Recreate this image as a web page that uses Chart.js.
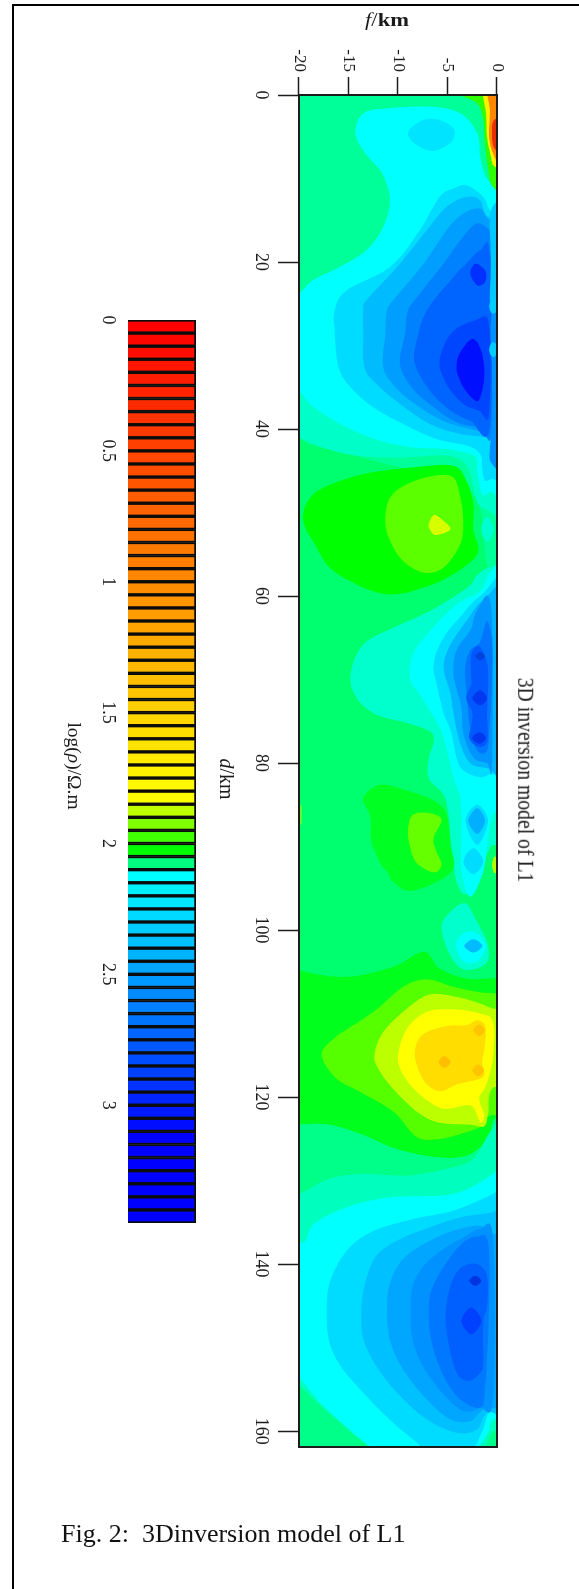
<!DOCTYPE html>
<html>
<head>
<meta charset="utf-8">
<title>3D inversion model of L1</title>
<script src="https://cdn.jsdelivr.net/npm/chart.js@4"></script>
<style>
  html, body { margin: 0; padding: 0; background: #fff; overflow: hidden; }
  body { width: 579px; height: 1589px; position: relative; font-family: "Liberation Serif", serif; color: #1a1a1a; }
  #frame-top { position: absolute; left: 12px; top: 4px; right: 0; height: 2px; background: #000; }
  #frame-left { position: absolute; left: 12px; top: 4px; bottom: 0; width: 2px; background: #000; }
  /* the whole figure is printed on its side, so it is laid out flat and turned */
  #turned { position: absolute; left: 0; top: 0; width: 1589px; height: 579px; transform-origin: 0 0; transform: translateX(579px) rotate(90deg); }
  #turned canvas { position: absolute; left: 0; filter: blur(0.5px); }
  .label { position: absolute; white-space: nowrap; transform: translate(-50%, -50%); }
  #f-title { position: absolute; left: 387px; top: 20px; font-size: 18px; white-space: nowrap; transform: translate(-50%, -50%) scaleX(1.25); }
  #caption { position: absolute; left: 61px; top: 1519px; font-size: 26px; white-space: pre; color: #111; }
</style>
</head>
<body>
<div id="frame-top"></div>
<div id="frame-left"></div>
<div id="turned">
  <canvas id="mapChart" width="1589" height="400" style="top:0"></canvas>
  <canvas id="barChart" width="1589" height="219" style="top:360px"></canvas>
  <div class="label" style="left:780px;top:53px;font-size:19.7px;transform:translate(-50%,-50%) scaleY(1.15)">3D inversion model of L1</div>
  <div class="label" style="left:779px;top:352px;font-size:20px"><i>d</i>/km</div>
  <div class="label" style="left:766px;top:505px;font-size:19.5px">log(<i>ρ</i>)/Ω.m</div>
</div>
<div id="f-title"><i>f</i>/<b>km</b></div>
<div id="caption">Fig. 2:  3Dinversion model of L1</div>

<script>
// axis ticks
const distanceTicks = [0, 20, 40, 60, 80, 100, 120, 140, 160];
const depthTicks = [-20, -15, -10, -5, 0];
const barTicks = [0, 0.5, 1, 1.5, 2, 2.5, 3];

// colour bar: log(rho) at the start of every cell, and its colour
const barLevels = [0, 0.05, 0.1, 0.15, 0.2, 0.25, 0.3, 0.35, 0.4, 0.45, 0.5, 0.55, 0.6, 0.65, 0.7, 0.75, 0.8, 0.85, 0.9, 0.95,
  1, 1.05, 1.1, 1.15, 1.2, 1.25, 1.3, 1.35, 1.4, 1.45, 1.5, 1.55, 1.6, 1.65, 1.7, 1.75, 1.8, 1.85, 1.9, 1.95,
  2, 2.05, 2.1, 2.15, 2.2, 2.25, 2.3, 2.35, 2.4, 2.45, 2.5, 2.55, 2.6, 2.65, 2.7, 2.75, 2.8, 2.85, 2.9, 2.95,
  3, 3.05, 3.1, 3.15, 3.2, 3.25, 3.3, 3.35, 3.4];
const barColors = ['#ff0000', '#ff0700', '#ff0e00', '#ff1500', '#ff1c00', '#ff2300', '#ff2a00', '#ff3200', '#ff3900', '#ff4000',
  '#ff4700', '#ff4e00', '#ff5500', '#ff5c00', '#ff6300', '#ff6a00', '#ff7100', '#ff7800', '#ff8000', '#ff8700',
  '#ff8e00', '#ff9500', '#ff9c00', '#ffa300', '#ffaa00', '#ffb100', '#ffb800', '#ffbf00', '#ffc600', '#ffce00',
  '#ffd500', '#ffdc00', '#ffe300', '#ffea00', '#fff100', '#fff800', '#ffff00', '#c0ff00', '#80ff00', '#40ff00',
  '#00ff00', '#00ff80', '#00ffff', '#00f2ff', '#00e6ff', '#00d9ff', '#00ccff', '#00bfff', '#00b3ff', '#00a6ff',
  '#0099ff', '#008cff', '#0080ff', '#0073ff', '#0066ff', '#0059ff', '#004dff', '#0040ff', '#0033ff', '#0026ff',
  '#001aff', '#000dff', '#0000ff', '#0000ff', '#0000ff', '#0000ff', '#0000ff', '#0000ff', '#0000ff'];

// contour outlines read off the section, each point is [d in km, f in km]
// first group: 0-60 km
const topSpring = [[-2,-22],[39,-22],[41,-20],[42,-18.5],[43,-15],[44,-11.8],[45,-8],[45,-5.5],[47,-3],[50,-1.6],[57,-0.8],[60,2],[-2,2]];
const topAqua = [[30,-22],[39,-22],[41,-20],[43,-15.2],[43.4,-10],[43.2,-5],[44.5,-3],[48,-2.2],[49.5,-1.3],[49.5,2],[30,2]];
const lobeGreen = [[50.5,-19.6],[48.6,-19.1],[47,-17.5],[45.4,-13.5],[44.6,-8.5],[44.4,-4.4],[46.2,-3.1],[48.9,-2.4],[52,-2.4],[55,-2],[57.8,-5],[59.4,-8.5],[59.8,-10.5],[59.6,-12],[58.6,-14.2],[56.6,-16.9],[53.4,-18.6],[52,-19.3]];
const lobeLime = [[51,-11.3],[48.2,-10.8],[46.6,-9.1],[45.6,-6.4],[45.8,-4.4],[48.2,-3.7],[51,-3.4],[53.8,-3.7],[56.6,-5.4],[57.2,-7.4],[55.8,-9.5],[53.4,-10.8]];
const lobeDot = [[51.4,-6.9],[50.3,-6.4],[50.8,-5.6],[52,-4.7],[52.7,-6.1],[52.2,-6.7]];
const topCyan = [[2.2,-13.5],[1.6,-11],[1.4,-6.7],[2.2,-3.7],[4.6,-2],[7.4,-1.7],[10,-1],[11,0.5],[11,2],[46,2],[47.5,-0.7],[47.8,-1.5],[45,-2],[43.8,-2],[43,-2.7],[42.4,-5.1],[42.2,-8.5],[41.4,-11.8],[39.8,-15.2],[37.4,-18.5],[35.4,-20],[33.5,-22],[25.5,-22],[23.8,-20],[22.2,-18.6],[20.6,-15.9],[18.6,-13.2],[15.8,-11.5],[12.6,-10.8],[9.4,-11.6],[7,-13.3],[4.6,-14.3]];
const topPatch = [[4.6,-9],[3.2,-7.8],[2.9,-6.1],[4,-4.4],[5.6,-4.6],[6.7,-6.4],[6,-8.1]];
const topBlue1 = [[10.8,-3.1],[12.2,-1.4],[14.2,-0.4],[15,2],[47,2],[46,-0.3],[46.2,-1.2],[44.6,-1.5],[43,-1.7],[42,-3],[41.2,-6.1],[39.4,-9.5],[37.4,-12.5],[35,-14.8],[32.6,-16],[28.2,-16.4],[25.8,-16.4],[23.4,-15.2],[20.6,-10.8],[16.2,-7.8],[12.2,-5.8],[11.2,-4.4]];
const topBlue2 = [[24.6,-13.2],[20.6,-10.1],[16.2,-7.1],[13.4,-5.1],[12.2,-3.1],[12.6,-1.7],[14.6,-0.9],[16,2],[42,2],[41,-1],[40.6,-3.7],[39.4,-6.8],[37,-9.8],[34.6,-12.2],[32.6,-13.4],[28.6,-13.5],[25.8,-13.5]];
const topBlue3 = [[24.6,-10.5],[20.2,-7.4],[16.2,-5.1],[14.2,-3.4],[13.6,-1.7],[15,-0.7],[16,2],[41,2],[40.6,-0.4],[40.2,-2],[39.2,-5.1],[37.4,-7.8],[35.2,-10.1],[32.6,-11.5],[28.6,-11.3],[25.8,-11.1]];
const topBlue4 = [[23.8,-7.8],[20.2,-5.4],[17.4,-3.7],[15.4,-2.1],[16.2,-0.8],[18,-0.5],[39.8,-0.5],[39.8,-1.7],[39.2,-4.1],[37.4,-6.4],[35.2,-8.5],[32.2,-9.8],[28.6,-9.3],[25.8,-9]];
const topBlue5 = [[21.8,-4.4],[20.2,-3.1],[18.6,-1.7],[19.5,-0.7],[39.6,-0.7],[39,-2.7],[37.8,-4.7],[35.4,-6.8],[32.2,-8.3],[29.4,-8.1],[25.8,-7.1]];
const topBlue6 = [[28.5,-4.6],[27,-2.2],[27.5,-0.8],[38.2,-0.8],[37.8,-1.8],[37,-3.4],[34.6,-5.1],[31.8,-5.8]];
const topSpot = [[21.4,-2.7],[20.2,-2.2],[21,-1.2],[22.4,-1.2],[22.8,-2]];
const topCore = [[32.6,-4.1],[30.6,-3.6],[29.2,-2.4],[31,-1.5],[33.8,-1.3],[36.2,-1.7],[36.6,-2.2],[35,-3.4]];
const topEdge1 = [[13.5,-0.5],[20,-0.6],[26,-0.5],[26,2],[13.5,2]];
const topEdge2 = [[26,-0.45],[33,-0.5],[39,-0.45],[44,-0.6],[44,2],[26,2]];
const topBump1 = [[24.4,-0.4],[25.3,-0.8],[26.2,-0.4],[25.3,0.3]];
const topBump2 = [[29.6,-0.4],[30.5,-0.8],[31.4,-0.4],[30.5,0.3]];
const surfGreen = [[-1,-4.5],[0,-3.7],[1,-2],[3,-1.4],[5.8,-1.2],[8.6,-0.9],[11,-0.4],[12,2],[-1,2]];
const surfYellow = [[-1,-1.6],[0.2,-1.4],[2.2,-1.1],[5,-1],[7.4,-0.6],[8.6,-0.2],[9.5,2],[-1,2]];
const surfOrange = [[-1,-0.8],[2,-0.7],[5,-0.8],[7,-0.4],[8,0.2],[8,2],[-1,2]];
const surfRed = [[3,-0.3],[5,-0.5],[6.5,-0.2],[7,1],[3,1]];
const sideSpot = [[50.5,-1],[52,-1.6],[53.5,-1],[52,-0.3]];
// second group: 57-105 km
const midAqua = [[57,2],[56.5,-0.5],[57.5,-2],[59,-3],[61.8,-6.8],[63.8,-10.5],[65.8,-13.5],[69.4,-14.8],[72.2,-14.2],[74.2,-12.2],[75.2,-9.1],[76.2,-6.8],[77.4,-6.4],[79.4,-6.9],[81.8,-6.9],[83.8,-5.4],[86.2,-4.9],[90.2,-4.6],[94.2,-4.1],[95.7,-3.1],[93,-1.6],[90,-0.6],[87,2]];
const midCyan = [[56,2],[57,-0.5],[59.4,-1.7],[61,-4.1],[64.2,-6.8],[67,-8.5],[69.8,-8.8],[71.8,-7.8],[75,-6.1],[77,-5.4],[81.8,-4.4],[84.2,-3.7],[88.6,-3.6],[93,-3.6],[96,-2.7],[93,-1.4],[89.2,-0.9],[86,-0.3],[84,2]];
const midBlue1 = [[58,2],[60,-1.7],[62.5,-3.7],[65,-5.4],[68,-6.4],[70.5,-6.1],[74,-5.4],[76.5,-4.6],[80.5,-3.7],[81.7,-1.7],[81.3,-0.4],[82,2]];
const midBlue2 = [[59,2],[60.5,-1.4],[63,-3.1],[65.8,-4.7],[68.5,-5.4],[71.7,-4.7],[74,-4.4],[77.7,-3.7],[80,-2.7],[80.6,-1],[81,2]];
const midBlue3 = [[61.3,-0.6],[61.7,-2],[64.1,-2.7],[66.5,-4.1],[69.3,-4.4],[73.3,-3.6],[76.5,-3.4],[79.3,-2.4],[80,-1],[80,-0.5]];
const midBlue4 = [[63,-1],[65.5,-1.7],[66.5,-2.7],[68.5,-3.2],[71.3,-3.1],[76,-2.7],[78.5,-2],[78.5,-1],[75,-0.7],[70,-0.5],[65.5,-0.5]];
const midBlue5 = [[66,-1.8],[67,-2.6],[70,-2.6],[70.6,-2.6],[72.2,-3.1],[74,-2.5],[75.5,-2.6],[77,-2.8],[78,-2],[77.5,-1],[74.1,-1],[71,-0.9],[68,-1]];
const midSpot1 = [[66.7,-1.7],[67.2,-2.2],[67.7,-1.7],[67.2,-1.2]];
const midSpot2 = [[71.3,-1.7],[72.2,-2.5],[73.1,-1.7],[72.2,-1]];
const midSpot3 = [[76.3,-1.8],[77,-2.5],[77.7,-1.8],[77,-1.1]];
const sideBlob1 = [[85,-2],[86.9,-3.2],[89.8,-2],[86.9,-0.9]];
const sideBlob2 = [[85.4,-2],[86.9,-2.9],[88.5,-2],[86.9,-1.2]];
const sideBlob3 = [[90.2,-2.4],[91.8,-3.4],[93.3,-2.4],[91.8,-1.4]];
const lowGreen1 = [[84.2,-13.5],[82.6,-11.8],[83.3,-9.1],[84.5,-6.4],[86.1,-5.1],[89.7,-4.7],[93,-4.6],[95.3,-8.5],[94.2,-10.5],[93,-11.1],[92,-11.8],[89.3,-12.7],[86.4,-12.8]];
const lowLime1 = [[88.1,-9],[86.2,-8.5],[86,-6.8],[86.8,-5.6],[89,-6.4],[90.6,-6.1],[92.2,-5.6],[93.1,-6.4],[92,-8.1],[90,-8.8]];
const edgeSpot1 = [[91.2,-0.2],[92.2,-0.5],[93.2,-0.2],[92.2,0.5]];
const edgeSpot2 = [[85,-19.8],[86.2,-20.4],[87.4,-19.8],[86.2,-19.7]];
// third group: 97-128 km
const lowAqua = [[96.8,-3.2],[97.8,-4.7],[99.6,-5.6],[102.6,-4.9],[104.6,-3.6],[104.6,-2],[103.6,-0.9],[101.4,-1],[98.6,-2.2]];
const lowCyan = [[101.4,-4.1],[100.2,-3.1],[100.5,-1.9],[101.9,-1.1],[103.7,-1.9],[103.9,-3.1],[102.9,-3.9]];
const lowSpot = [[101.1,-2.4],[101.9,-3.3],[102.7,-2.4],[101.9,-1.5]];
const bandGreen = [[103,-22],[104.8,-20],[105.6,-15.2],[104.4,-10.5],[102.6,-7.4],[104.6,-5.8],[105.8,-3.1],[105.8,-0.4],[106,2],[122,2],[122.6,-0.2],[125,-0.9],[127,-3],[127.2,-6.1],[126.2,-10.2],[124.5,-13.6],[123.3,-17],[123.3,-20],[123.6,-22],[120,-23],[107,-23]];
const bandLime = [[115,-17.7],[113,-16.5],[109.8,-12.5],[106.8,-9.5],[105.9,-7.1],[106.8,-4.4],[107.4,-2],[107.6,-0.2],[108,2],[121,2],[122.2,-0.7],[123.4,-1.4],[124.2,-3.1],[125,-5.7],[124.8,-8.1],[121.8,-10.4],[119.4,-13.8],[117.8,-16.2]];
const bandPale = [[115,-12.4],[112.2,-11.5],[109.4,-9.1],[107.7,-6.8],[108,-4.1],[108.8,-1.7],[109.4,-0.4],[110,2],[118,2],[119,-0.5],[122,-0.9],[123.5,-1.3],[123.3,-2.7],[123.1,-5.7],[122,-7.8],[119.4,-10.2],[117,-11.8]];
const bandYellow = [[115,-10],[111.8,-9.1],[109.8,-7.1],[109.5,-4.4],[110,-1.7],[111,-0.4],[115.3,-0.4],[118.6,-1.1],[120.2,-1.8],[122.2,-1.3],[123,-1.7],[121,-2.7],[121.4,-5.4],[119.7,-7.8],[117.3,-9.5]];
const bandGold = [[115,-8.3],[112.6,-7.6],[111.5,-5.1],[111.4,-3.1],[110.8,-2],[111.5,-1.2],[113.7,-1.2],[115.8,-1.5],[117.3,-1.3],[117.9,-2],[118.5,-4.1],[119.3,-5.8],[118,-7.4]];
const goldSpot1 = [[115.1,-5.3],[115.8,-5.9],[116.5,-5.3],[115.8,-4.7]];
const goldSpot2 = [[111.3,-1.8],[112,-2.4],[112.7,-1.8],[112,-1.2]];
const goldSpot3 = [[116.1,-1.9],[116.8,-2.5],[117.5,-1.9],[116.8,-1.3]];
// last group: 124-162 km
const endSpring = [[123.6,-22],[123.3,-20],[123.3,-17],[124.5,-13.6],[126.2,-10.2],[127.2,-6.1],[127,-3],[125,-0.9],[122.6,-0.2],[122,2],[166,2],[166,-23],[128,-23]];
const endAqua = [[131.4,-22],[131.6,-20],[129.8,-17],[129.2,-13.6],[129.4,-9.1],[128.6,-5.1],[127.4,-2.4],[123.7,-0.4],[122,2],[158,2],[160,-0.4],[161.5,-1],[163,-2],[164,-12.8],[162.6,-12.4],[160.4,-14.5],[157.4,-17.4],[154.5,-20],[152.5,-22],[150,-23],[134,-23]];
const endCyan = [[136,-22],[137.4,-19.6],[135.2,-18.5],[133.2,-15.2],[132,-10.8],[131.6,-4.4],[129.2,-0.4],[127,2],[157,2],[158.6,-0.4],[160.2,-0.9],[162.2,-2],[164,-3],[164,-12.2],[162,-12.8],[159.8,-14.9],[156.9,-17.6],[153.6,-20],[151.5,-22],[149,-23],[139,-23]];
const endBlue1 = [[145.4,-17.2],[142.2,-16.9],[138.6,-15.3],[136.2,-12.8],[134.6,-8.5],[133.6,-4.4],[131.6,-0.4],[130,2],[157,2],[157.6,-0.6],[159.8,-1.4],[162.2,-2.4],[164,-3.7],[164,-7.4],[162.2,-7.4],[159,-10.5],[155.8,-13.2],[152.2,-15.8],[149,-17]];
const endBlue2 = [[145.4,-13.7],[142.2,-13.3],[139,-12.2],[137,-9.8],[135.6,-6.8],[134.4,-3.7],[133.8,-0.4],[133,2],[156,2],[157.8,-1],[159.8,-2],[160.2,-4.1],[158.6,-7.1],[155.4,-10.1],[152.2,-12.2],[149,-13.5]];
const endBlue3 = [[145.4,-11.1],[142.2,-10.8],[139.4,-9.5],[137.4,-7.1],[136,-4.4],[135.4,-1.7],[136.4,-0.2],[136,2],[155,2],[157.4,-1.4],[158.8,-2.7],[158.6,-4.7],[156.2,-7.1],[152.6,-9.5],[149.2,-10.8]];
const endBlue4 = [[145.8,-8.7],[142.6,-8.5],[140.2,-7.4],[138.2,-5.4],[136.8,-3.4],[135.8,-1.7],[137,-0.4],[156,-0.4],[157.2,-1.7],[157.6,-3.4],[155.6,-5.4],[152.4,-7.4],[149.2,-8.5]];
const endBlue5 = [[145.8,-6.9],[143,-6.6],[139.8,-5.1],[137.4,-3.4],[136.7,-2],[137.4,-0.9],[145,-0.8],[155,-1.2],[157.2,-1.7],[156.2,-3.7],[153.4,-5.4],[149.4,-6.6]];
const endBlue6 = [[146.2,-5.2],[142.6,-4.7],[140.4,-3.6],[140,-2],[141.4,-1],[145,-1],[147,-1.4],[151.8,-1.4],[153,-1.7],[154,-2.9],[153,-4.1],[149.4,-4.9]];
const endSpot1 = [[145.2,-2.6],[146.8,-3.6],[148.4,-2.6],[146.8,-1.6]];
const endSpot2 = [[141.4,-2.2],[142,-2.8],[142.6,-2.2],[142,-1.6]];

// painted in this order, later ones on top
const contours = [
  [topSpring, '#00ff99'], [topAqua, '#00ffc8'], [sideSpot, '#00ffd0'],
  [lobeGreen, '#00ff00'], [lobeLime, '#5cff00'], [lobeDot, '#d8ff00'],
  [topCyan, '#00ffff'], [topPatch, '#00e4ff'],
  [topBlue1, '#00dcff'], [topBlue2, '#00bcff'], [topBlue3, '#009eff'], [topBlue4, '#0082ff'], [topBlue5, '#0064ff'], [topBlue6, '#0046ff'],
  [topSpot, '#0030ff'], [topCore, '#0010ff'], [topEdge1, '#00c8ff'], [topEdge2, '#0090ff'], [topBump1, '#00ccff'], [topBump2, '#00ccff'],
  [surfGreen, '#30ff00'], [surfYellow, '#ffee00'], [surfOrange, '#ff8800'], [surfRed, '#e83000'],
  [midAqua, '#00ffcc'], [midCyan, '#00ffff'], [midBlue1, '#00dcff'], [midBlue2, '#00b4ff'], [midBlue3, '#0094ff'], [midBlue4, '#0076ff'], [midBlue5, '#0058ff'],
  [midSpot1, '#0044e0'], [midSpot2, '#0038f0'], [midSpot3, '#0038f0'],
  [sideBlob1, '#00dcff'], [sideBlob2, '#00b0ff'], [sideBlob3, '#00dcff'],
  [lowGreen1, '#00ff22'], [lowLime1, '#66ff00'], [edgeSpot1, '#b0ff00'], [edgeSpot2, '#60ff30'],
  [bandGreen, '#00ff1c'], [lowAqua, '#00ffcc'], [lowCyan, '#00ffff'], [lowSpot, '#00bcff'],
  [bandLime, '#55ff00'], [bandPale, '#bcff00'], [bandYellow, '#ffff00'], [bandGold, '#ffdd00'],
  [goldSpot1, '#ffbf00'], [goldSpot2, '#ffc400'], [goldSpot3, '#ffc400'],
  [endSpring, '#00ff88'], [endAqua, '#00ffbe'], [endCyan, '#00ffff'],
  [endBlue1, '#00dcff'], [endBlue2, '#00c0ff'], [endBlue3, '#00a6ff'], [endBlue4, '#0092ff'], [endBlue5, '#0078ff'], [endBlue6, '#0060ff'],
  [endSpot1, '#0040ff'], [endSpot2, '#0034e0']
];

const serif = 'Liberation Serif';
const inkColor = '#1c1c1c';

// fills each dataset as a closed smooth outline through its points
const contourFill = {
  id: 'contourFill',
  beforeDatasetsDraw(chart) {
    const area = chart.chartArea;
    chart.ctx.save();
    chart.ctx.fillStyle = '#00ff6e';
    chart.ctx.fillRect(area.left, area.top, area.width, area.height);
    chart.ctx.restore();
  },
  beforeDatasetDraw(chart, args) {
    const ctx = chart.ctx;
    const area = chart.chartArea;
    const pts = args.meta.data;
    const n = pts.length;
    ctx.save();
    ctx.beginPath();
    ctx.rect(area.left, area.top, area.width, area.height);
    ctx.clip();
    ctx.beginPath();
    ctx.moveTo(pts[0].x, pts[0].y);
    for (let i = 0; i < n; i++) {
      const p0 = pts[(i - 1 + n) % n], p1 = pts[i], p2 = pts[(i + 1) % n], p3 = pts[(i + 2) % n];
      ctx.bezierCurveTo(p1.x + (p2.x - p0.x) / 6, p1.y + (p2.y - p0.y) / 6,
        p2.x - (p3.x - p1.x) / 6, p2.y - (p3.y - p1.y) / 6, p2.x, p2.y);
    }
    ctx.closePath();
    ctx.fillStyle = args.meta.controller.getDataset().backgroundColor;
    ctx.fill();
    ctx.restore();
  },
  afterDatasetsDraw(chart) {
    const ctx = chart.ctx;
    const area = chart.chartArea;
    ctx.save();
    ctx.lineWidth = 2;
    ctx.strokeStyle = inkColor;
    ctx.strokeRect(area.left, area.top, area.width, area.height);
    ctx.restore();
  }
};

function noAutoPadding(scale) {
  scale.paddingLeft = scale.paddingRight = scale.paddingTop = scale.paddingBottom = 0;
}

new Chart(document.getElementById('mapChart'), {
  type: 'scatter',
  data: {
    datasets: contours.map((c, i) => ({
      data: c[0].map(p => ({ x: p[0], y: p[1] })),
      backgroundColor: c[1],
      pointRadius: 0,
      order: -i
    }))
  },
  plugins: [contourFill],
  options: {
    responsive: false,
    animation: false,
    events: [],
    layout: { padding: { left: 0, top: 82, right: 142, bottom: 60 } },
    plugins: { legend: { display: false }, tooltip: { enabled: false } },
    scales: {
      x: {
        type: 'linear', min: 0, max: 161.9,
        afterBuildTicks: s => { s.ticks = distanceTicks.map(v => ({ value: v })); },
        afterFit: s => { s.height = 60; noAutoPadding(s); },
        border: { display: false },
        grid: { drawOnChartArea: false, tickLength: 21, tickColor: inkColor, tickWidth: 1.5 },
        ticks: { color: inkColor, padding: 6, maxRotation: 0, autoSkip: false, font: { family: serif, size: 18 } }
      },
      y: {
        type: 'linear', min: -20, max: 0,
        afterBuildTicks: s => { s.ticks = depthTicks.map(v => ({ value: v })); },
        afterFit: s => { s.width = 95; noAutoPadding(s); },
        border: { display: false },
        grid: { drawOnChartArea: false, tickLength: 18, tickColor: inkColor, tickWidth: 1.5 },
        ticks: { color: inkColor, padding: 5, autoSkip: false, font: { family: serif, size: 17 } }
      }
    }
  }
});

new Chart(document.getElementById('barChart'), {
  type: 'bar',
  data: {
    datasets: [{
      data: barLevels.map(v => ({ x: v + 0.025, y: 1 })),
      backgroundColor: barColors,
      borderColor: '#0c0c0c',
      borderWidth: 2,
      barPercentage: 1,
      categoryPercentage: 1
    }]
  },
  options: {
    responsive: false,
    animation: false,
    events: [],
    layout: { padding: { left: 320, top: 23, right: 366, bottom: 88 } },
    plugins: { legend: { display: false }, tooltip: { enabled: false } },
    scales: {
      x: {
        type: 'linear', min: 0, max: 3.45, offset: false,
        afterBuildTicks: s => { s.ticks = barTicks.map(v => ({ value: v })); },
        afterFit: s => { s.height = 40; noAutoPadding(s); },
        border: { display: false },
        grid: { display: false, offset: false, drawTicks: false },
        ticks: { color: inkColor, padding: 9, maxRotation: 0, autoSkip: false, callback: v => String(v), font: { family: serif, size: 18 } }
      },
      y: { display: false, min: 0, max: 1 }
    }
  }
});
</script>
</body>
</html>
